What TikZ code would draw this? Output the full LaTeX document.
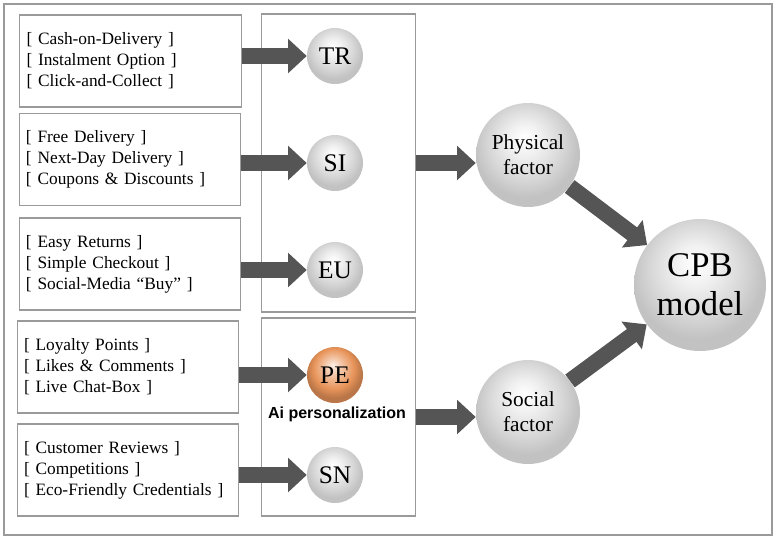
\documentclass[tikz,border=0pt]{standalone}
\usepackage{fontspec}
\setmainfont{Liberation Serif}[Ligatures=TeX]
\newfontfamily\serf{Liberation Serif}[Ligatures=TeX]
\newfontfamily\sanf{Liberation Sans}
\usepackage{xcolor}
\usetikzlibrary{arrows.meta,positioning}
\definecolor{framec}{HTML}{9A9A9A}
\definecolor{arrc}{HTML}{555555}
\definecolor{pec}{HTML}{E8945A}
\pgfdeclareradialshading{sphere}{\pgfpoint{-2bp}{9bp}}{color(0bp)=(white); color(8bp)=(gray!12); color(18bp)=(gray!32); color(25bp)=(gray!48); color(50bp)=(gray!48)}
\pgfdeclareradialshading{spherepe}{\pgfpoint{-2bp}{9bp}}{color(0bp)=(pec!15!white); color(8bp)=(pec!55!white); color(18bp)=(pec); color(25bp)=(pec!80!black); color(50bp)=(pec!80!black)}
\tikzset{
  lbox/.style={draw=framec,thick,minimum width=166pt,minimum height=69pt,text width=156pt,align=left,inner sep=5pt,font=\serf\fontsize{13}{15.8}\selectfont},
  mbox/.style={draw=framec,thick,minimum width=116pt},
  ball/.style={circle,shade,shading=sphere,inner sep=0pt,align=center},
  small/.style={ball,minimum size=42pt,font=\serf\fontsize{19}{19}\selectfont},
  big/.style={ball,minimum size=78pt,font=\serf\fontsize{16}{19}\selectfont},
  blk/.style={-{Triangle[length=14pt,width=25pt]},line width=12pt,arrc}
}
\begin{document}
\begin{tikzpicture}[x=0.75pt,y=-0.75pt]
\useasboundingbox (0,0) rectangle (777,540);
\draw[framec,thick] (4,4) rectangle (772,535);
\node[lbox] (b1) at (130.5,61) {{[} Cash-on-Delivery ]\\{[} Instalment Option ]\\{[} Click-and-Collect ]};
\node[lbox] (b2) at (130,159.5) {{[} Free Delivery ]\\{[} Next-Day Delivery ]\\{[} Coupons \& Discounts ]};
\node[lbox] (b3) at (130,264) {{[} Easy Returns ]\\{[} Simple Checkout ]\\{[} Social-Media “Buy” ]};
\node[lbox] (b4) at (128,367) {{[} Loyalty Points ]\\{[} Likes \& Comments ]\\{[} Live Chat-Box ]};
\node[lbox] (b5) at (128,470) {{[} Customer Reviews ]\\{[} Competitions ]\\{[} Eco-Friendly Credentials ]};
\node[mbox,minimum height=223.5pt] (mtop) at (338.5,163) {};
\node[mbox,minimum height=148.5pt] (mbot) at (338.5,417) {};
\node[small] (tr) at (335,56) {TR};
\node[small] (si) at (335,163) {SI};
\node[small] (eu) at (335,270) {EU};
\node[small,shading=spherepe] (pe) at (335,375) {PE};
\node[small] (sn) at (335,475) {SN};
\node[font=\sanf\fontsize{12}{12}\selectfont\bfseries] (ai) at (337,414) {Ai personalization};
\node[big] (phys) at (528,155) {Physical\\factor};
\node[big] (soc) at (528,412) {Social\\factor};
\node[ball,minimum size=99pt,font=\serf\fontsize{26}{29}\selectfont] (cpb) at (700,285) {CPB\\model};
\draw[blk] (b1.east |- tr) -- (tr.west);
\draw[blk] (b2.east |- si) -- (si.west);
\draw[blk] (b3.east |- eu) -- (eu.west);
\draw[blk] (b4.east |- pe) -- (pe.west);
\draw[blk] (b5.east |- sn) -- (sn.west);
\draw[blk] (mtop.east) -- (mtop.east -| phys.west);
\draw[blk] (mbot.east) -- (mbot.east -| soc.west);
\draw[blk] (phys) -- (cpb);
\draw[blk] (soc) -- (cpb);
\end{tikzpicture}
\end{document}
